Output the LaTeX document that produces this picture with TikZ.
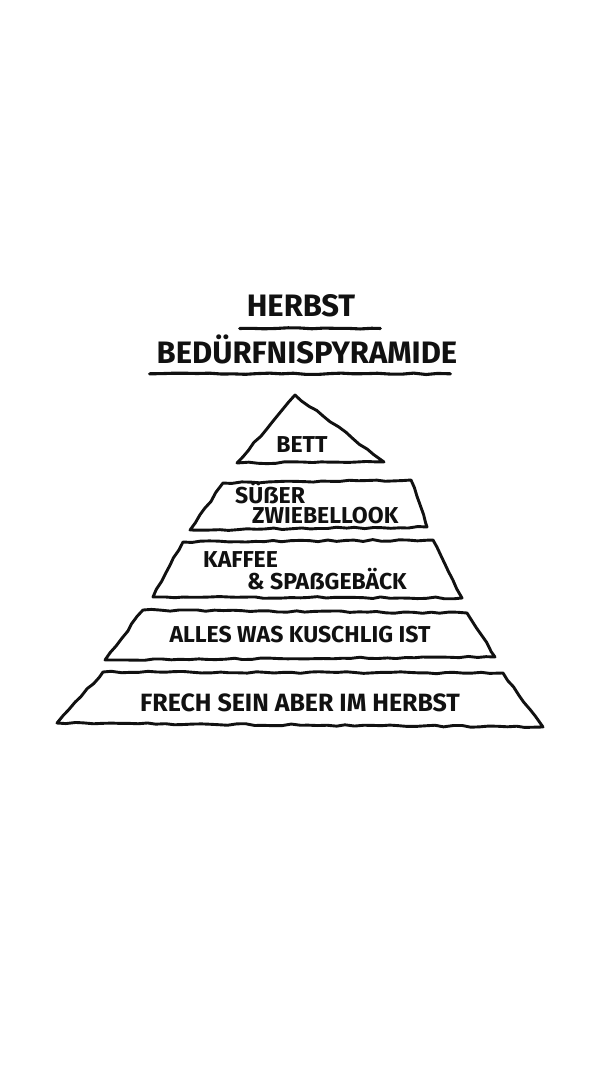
\documentclass[tikz,border=0pt]{standalone}
\usepackage{fontspec}
\setmainfont{Fira Sans}
\usepackage{tikz}
\usetikzlibrary{positioning,decorations.pathmorphing}
\definecolor{ink}{HTML}{111111}

\begin{document}
\begin{tikzpicture}[
  x=1pt,y=-1pt,
  lvl/.style={draw=ink,line width=2.9pt,line join=round,line cap=round,
    decorate,decoration={random steps,segment length=9pt,amplitude=0.9pt}},
  ul/.style={draw=ink,line width=3.1pt,line cap=round,
    decorate,decoration={random steps,segment length=12pt,amplitude=0.7pt}},
  lbl/.style={text=ink,inner sep=0pt,align=left,font=\bfseries\fontsize{23}{20}\selectfont},
  ttl/.style={text=ink,inner sep=0pt,font=\bfseries\fontsize{31}{33}\selectfont}
]
\pgfmathsetseed{7}
\useasboundingbox (0,0) rectangle (600,1066);
% title
\node[ttl] (herbst) at (301,306) {HERBST};
\node[ttl] (bpyr) at (307,349) {BEDÜRFNISPYRAMIDE};
\draw[ul] ([xshift=-7pt,yshift=-11pt]herbst.south west) -- ([xshift=25pt,yshift=-11pt]herbst.south east);
\draw[ul] ([xshift=-7pt,yshift=-10pt]bpyr.south west) -- ([xshift=-7pt,yshift=-10pt]bpyr.south east);
% levels
\draw[lvl] (295,395) -- (384,462) -- (237,463) -- cycle;
\draw[lvl] (223,483) -- (411,480) -- (427,527) -- (190,530) -- cycle;
\draw[lvl] (183,542) -- (433,540) -- (462,598) -- (153,597) -- cycle;
\draw[lvl] (143,610) -- (467,613) -- (495,657) -- (105,660) -- cycle;
\draw[lvl] (103,672) -- (503,673) -- (543,727) -- (57,723) -- cycle;
% labels
\node[lbl] (bett) at (302,445) {BETT};
\node[lbl,anchor=west] (zwiebel) at (235,503) {SÜẞER\\\hspace{17pt}ZWIEBELLOOK};
\node[lbl,anchor=west] (kaffee) at (203,571) {KAFFEE\\\hspace{44pt}\& SPAẞGEBÄCK};
\node[lbl] (kuschlig) at (300,635) {ALLES WAS KUSCHLIG IST};
\node[lbl,font=\bfseries\fontsize{25}{27}\selectfont] (frech) at (300,703) {FRECH SEIN ABER IM HERBST};
\end{tikzpicture}
\end{document}
